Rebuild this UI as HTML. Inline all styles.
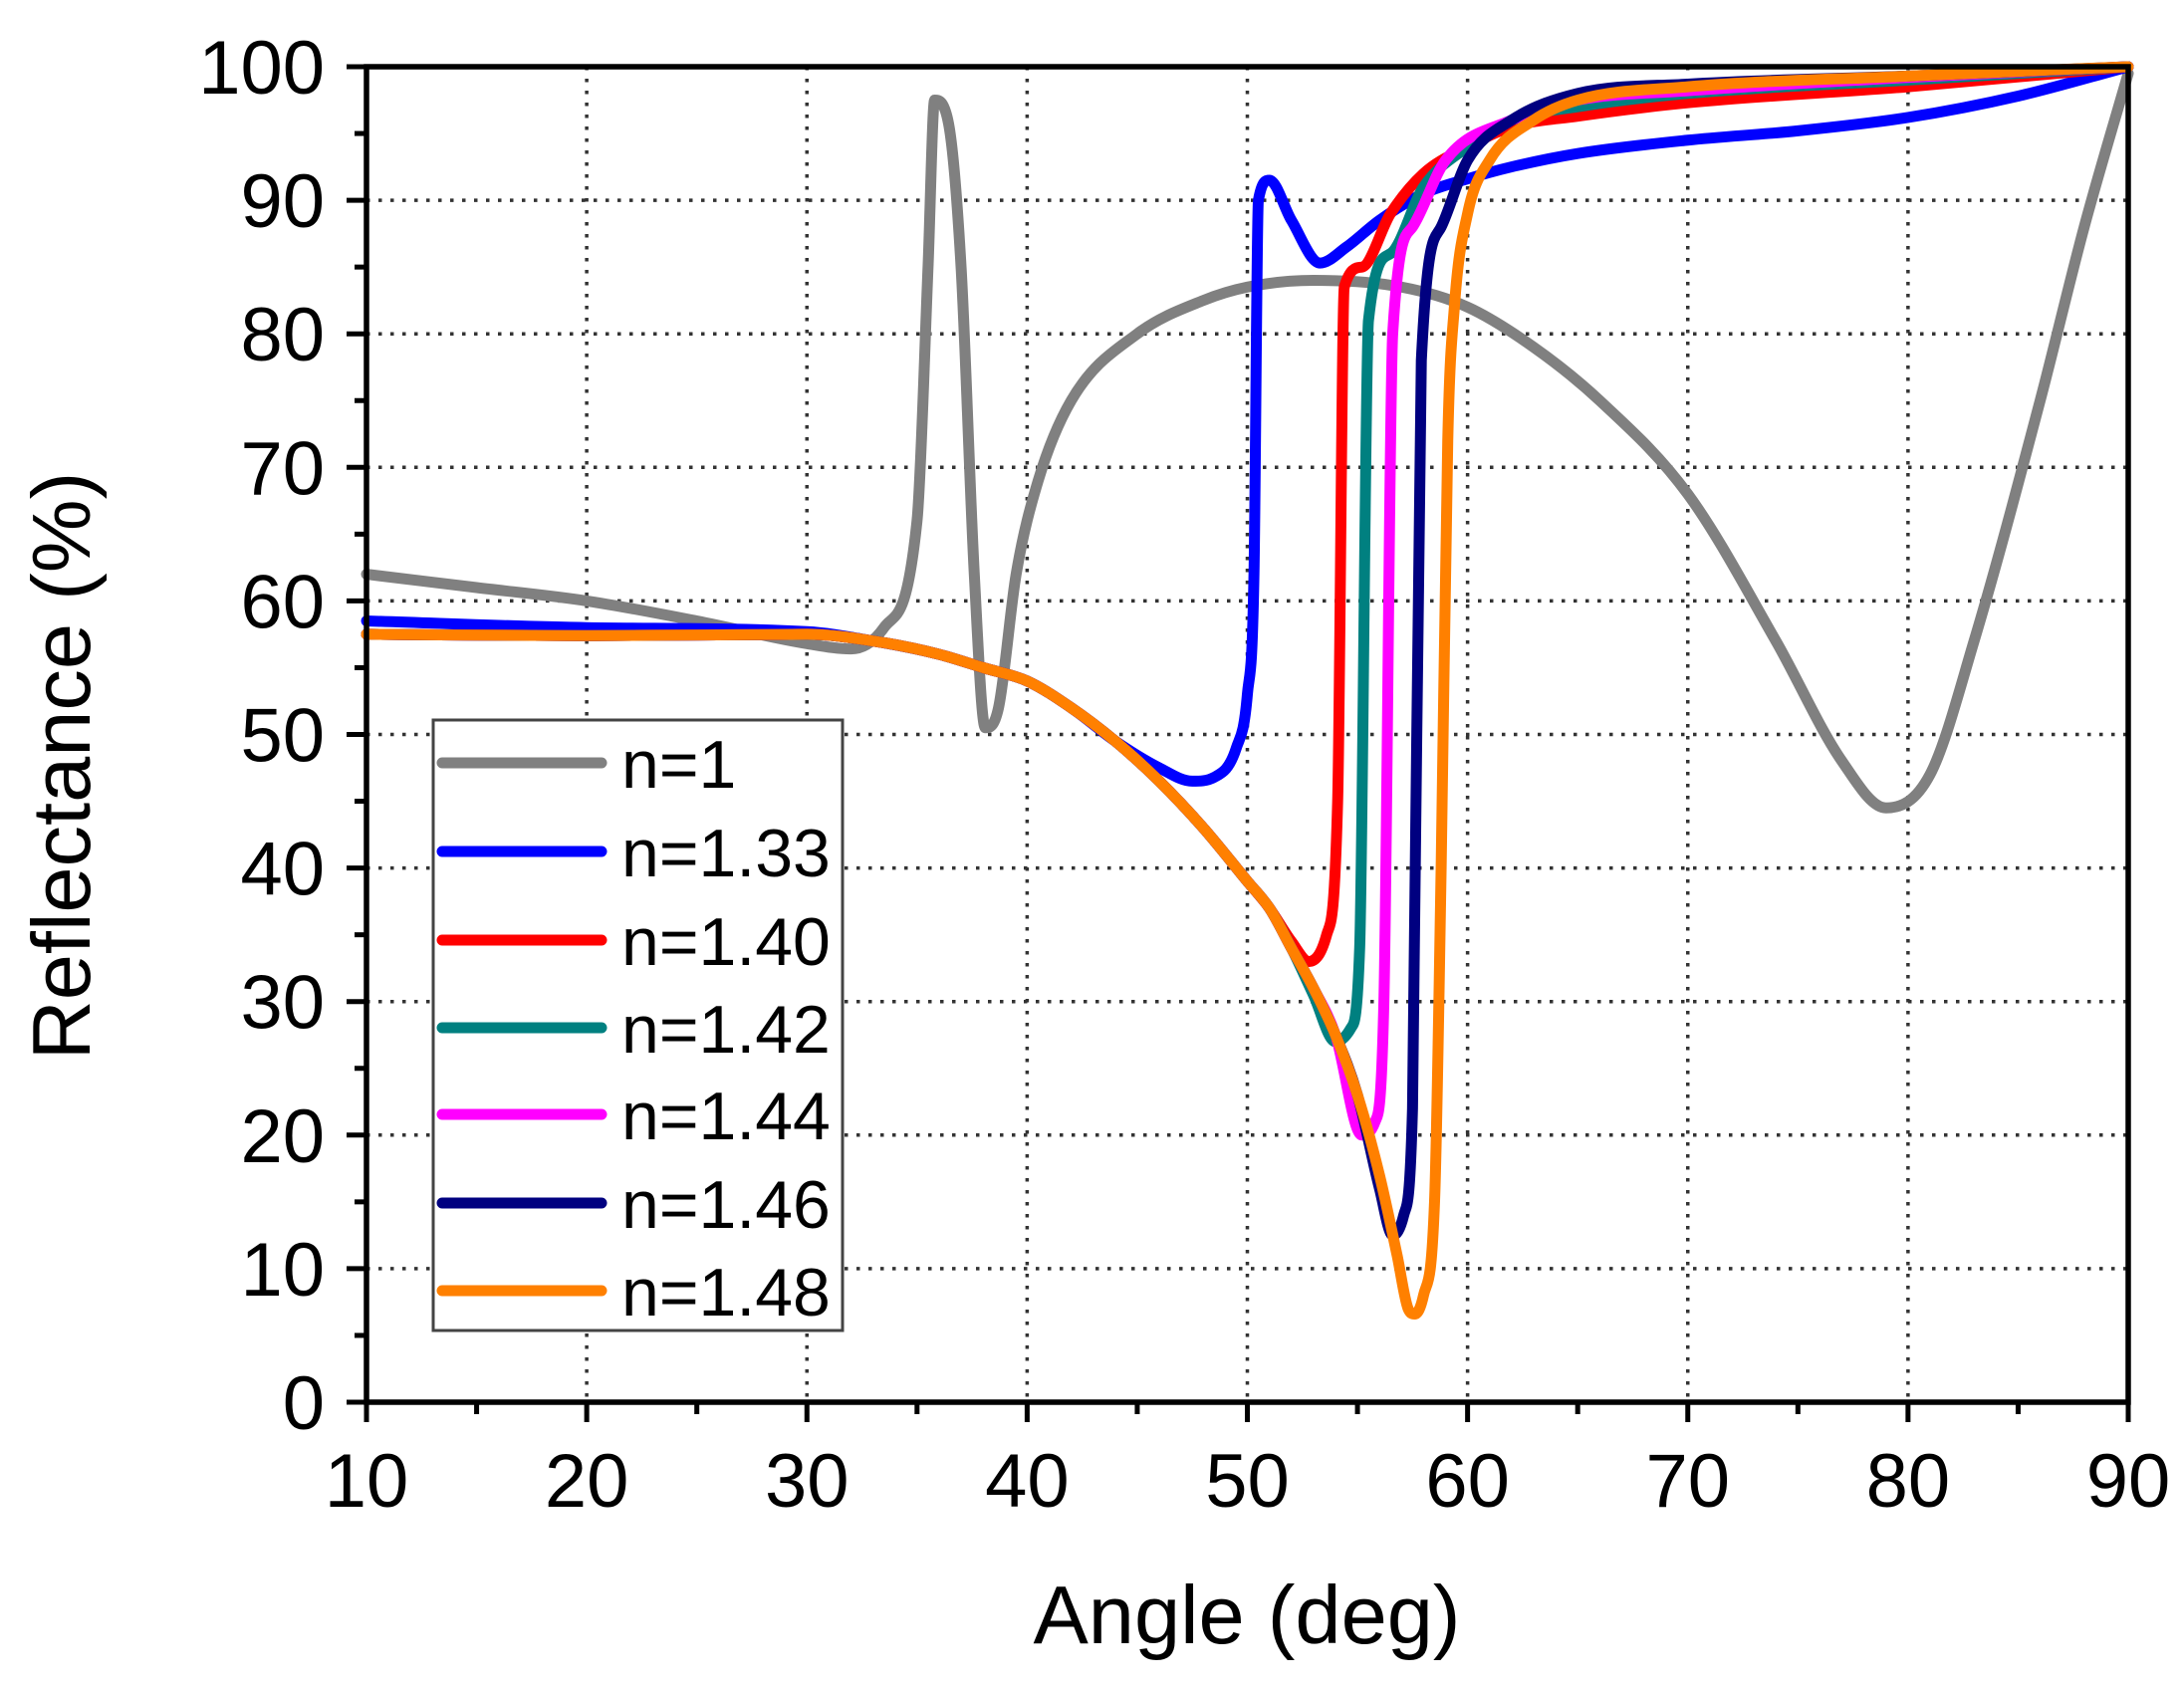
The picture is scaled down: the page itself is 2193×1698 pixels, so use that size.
<!DOCTYPE html>
<html><head><meta charset="utf-8"><style>
html,body{margin:0;padding:0;background:#fff;}
svg{display:block;font-family:"Liberation Sans",Arial,sans-serif;}
</style></head><body>
<svg id="chart" width="2193" height="1698" viewBox="0 0 2193 1698" xmlns="http://www.w3.org/2000/svg">
<g id="grid"></g>
<g id="series"></g>
<g id="axes"></g>
<g id="legend"></g>
<text x="1252" y="1650" font-size="83" text-anchor="middle">Angle (deg)</text>
<text transform="translate(90,769) rotate(-90)" font-size="83" text-anchor="middle">Reflectance (%)</text>
</svg>
<script>
const xTicks=[10,20,30,40,50,60,70,80,90];
const yTicks=[0,10,20,30,40,50,60,70,80,90,100];
const seriesNames=["n=1","n=1.33","n=1.40","n=1.42","n=1.44","n=1.46","n=1.48"];
const seriesColors=["#808080","#0000ff","#ff0000","#008080","#ff00ff","#000080","#ff8000"];
const base=[[10,57.5],[20,57.4],[30,57.5],[33,57],[36,56],[38,55],[40,54],[42,52],[44,49.5],[46,46.5],[48,43],[50,39],[51,37]];
const sGray=[[10,62],[15,61],[20,60],[25,58.5],[30,56.8],[32,56.4],[33.5,58],[35,66],[35.5,85],[35.8,97.5],[36.4,96],[37,85],[37.6,62],[38.1,50.5],[38.7,52],[39.5,62],[40.5,69],[42,75],[45,80],[48,82.5],[50,83.5],[53,84],[57,83.5],[60,82],[63,79],[66,75],[70,68],[74,57],[77,48],[79,44.5],[81,47],[83,57],[86,75],[88,88],[90,99.5]];
const sBlue=[[10,58.5],[20,58],[30,57.7],[33,57],[36,56],[38,55],[40,54],[42,52],[44,49.5],[46,47.5],[47.5,46.5],[48.5,46.8],[49.5,49],[50,53],[50.3,62],[50.5,90],[51,91.5],[52,88.5],[53.3,85.3],[54.5,86.5],[56,88.5],[58,90.5],[60,91.6],[62,92.5],[65,93.5],[70,94.5],[75,95.2],[80,96.2],[85,97.8],[90,100]];
const sRed=[[52,34.5],[52.8,33],[53.6,35],[54.1,45],[54.4,83.5],[55.2,85],[56.5,89],[58,92],[60,94],[62,95.5],[65,96.3],[70,97.3],[80,98.5],[90,100]];
const sTeal=[[52,34],[53,30.5],[54,27],[54.7,28],[55.1,34],[55.5,81],[56.5,86],[58,91],[60,94],[62,96],[65,97],[70,98],[80,99],[90,100]];
const sMag=[[52,34],[53,31],[54,27.5],[55.2,20],[55.8,21],[56.2,30],[56.6,80],[57.5,88],[59,93],[62,96],[65,97.5],[70,98.2],[80,99.2],[90,100]];
const sNavy=[[52,34],[53,31],[54,27.5],[55,23],[56,16],[56.6,12.5],[57.1,14],[57.5,22],[57.9,78],[58.8,88],[60,93],[62,96],[65,98],[70,98.7],[80,99.3],[90,100]];
const sOrange=[[52,34],[53,31],[54,27.5],[55,23],[56,17],[56.8,11],[57.3,7],[57.6,6.6],[58,8],[58.5,15],[58.8,40],[59.1,72],[59.4,82],[60,89],[61,93],[63,96],[65,97.5],[70,98.5],[80,99.3],[90,100]];
const seriesData=[sGray,sBlue,base.concat(sRed),base.concat(sTeal),base.concat(sMag),base.concat(sNavy),base.concat(sOrange)];

const X0=368,X1=2137,Y0=1408,Y1=67;
const sx=v=>X0+(v-10)/80*(X1-X0);
const sy=v=>Y0-v/100*(Y0-Y1);
const NS="http://www.w3.org/2000/svg";
function mk(tag,attrs,parent){const e=document.createElementNS(NS,tag);for(const k in attrs)e.setAttribute(k,attrs[k]);parent.appendChild(e);return e;}
function monoPath(d){
  const P=d.map(q=>[sx(q[0]),sy(q[1])]);const n=P.length;
  const dl=[],m=[];
  for(let i=0;i<n-1;i++)dl.push((P[i+1][1]-P[i][1])/(P[i+1][0]-P[i][0]));
  m[0]=dl[0];m[n-1]=dl[n-2];
  for(let i=1;i<n-1;i++){m[i]=(dl[i-1]*dl[i]<=0)?0:(dl[i-1]+dl[i])/2;}
  for(let i=0;i<n-1;i++){if(dl[i]===0){m[i]=0;m[i+1]=0;continue;}const a=m[i]/dl[i],b=m[i+1]/dl[i],s=a*a+b*b;if(s>9){const t=3/Math.sqrt(s);m[i]=t*a*dl[i];m[i+1]=t*b*dl[i];}}
  let s='M'+P[0][0]+','+P[0][1];
  for(let i=0;i<n-1;i++){const h=(P[i+1][0]-P[i][0])/3;s+=' C'+(P[i][0]+h)+','+(P[i][1]+m[i]*h)+' '+(P[i+1][0]-h)+','+(P[i+1][1]-m[i+1]*h)+' '+P[i+1][0]+','+P[i+1][1];}
  return s;
}
const grid=document.getElementById('grid'),axes=document.getElementById('axes'),ser=document.getElementById('series'),leg=document.getElementById('legend');
xTicks.forEach(t=>{if(t>10&&t<90){const l=mk('line',{x1:sx(t),x2:sx(t),y1:Y1,y2:Y0,stroke:'#333','stroke-width':3.5,'stroke-dasharray':'3.5 8.5'},grid);

}});
yTicks.forEach(t=>{if(t>0&&t<100){const l=mk('line',{x1:X0,x2:X1,y1:sy(t),y2:sy(t),stroke:'#333','stroke-width':3.5,'stroke-dasharray':'3.5 8.5'},grid);

}});
seriesData.forEach((d,i)=>{const p=mk('path',{d:monoPath(d),fill:'none',stroke:seriesColors[i],'stroke-width':11,'stroke-linejoin':'round','stroke-linecap':'round'},ser);

});
const fr=mk('rect',{x:X0,y:Y1,width:X1-X0,height:Y0-Y1,fill:'none',stroke:'#000','stroke-width':5.5},axes);


xTicks.forEach(t=>{mk('line',{x1:sx(t),x2:sx(t),y1:Y0,y2:Y0+20,stroke:'#000','stroke-width':5},axes);
const tx=mk('text',{x:sx(t),y:1513,'font-size':76,'text-anchor':'middle'},axes);tx.textContent=t;

});
for(let t=15;t<90;t+=10)mk('line',{x1:sx(t),x2:sx(t),y1:Y0,y2:Y0+12,stroke:'#000','stroke-width':5},axes);
yTicks.forEach(t=>{mk('line',{x1:X0-20,x2:X0,y1:sy(t),y2:sy(t),stroke:'#000','stroke-width':5},axes);
const tx=mk('text',{x:326,y:sy(t)+27,'font-size':76,'text-anchor':'end'},axes);tx.textContent=t;

});
for(let t=5;t<100;t+=10)mk('line',{x1:X0-12,x2:X0,y1:sy(t),y2:sy(t),stroke:'#000','stroke-width':5},axes);
const lb=mk('rect',{x:435,y:723,width:411,height:613,fill:'#fff',stroke:'#444','stroke-width':3},leg);


const ly=[766,855,944,1032,1119,1208,1296];
seriesNames.forEach((n,i)=>{const l=mk('line',{x1:444,x2:604,y1:ly[i],y2:ly[i],stroke:seriesColors[i],'stroke-width':11,'stroke-linecap':'round'},leg);


const tx=mk('text',{x:624,y:ly[i]+25,'font-size':68},leg);tx.textContent=n;

});
</script>
</body></html>
